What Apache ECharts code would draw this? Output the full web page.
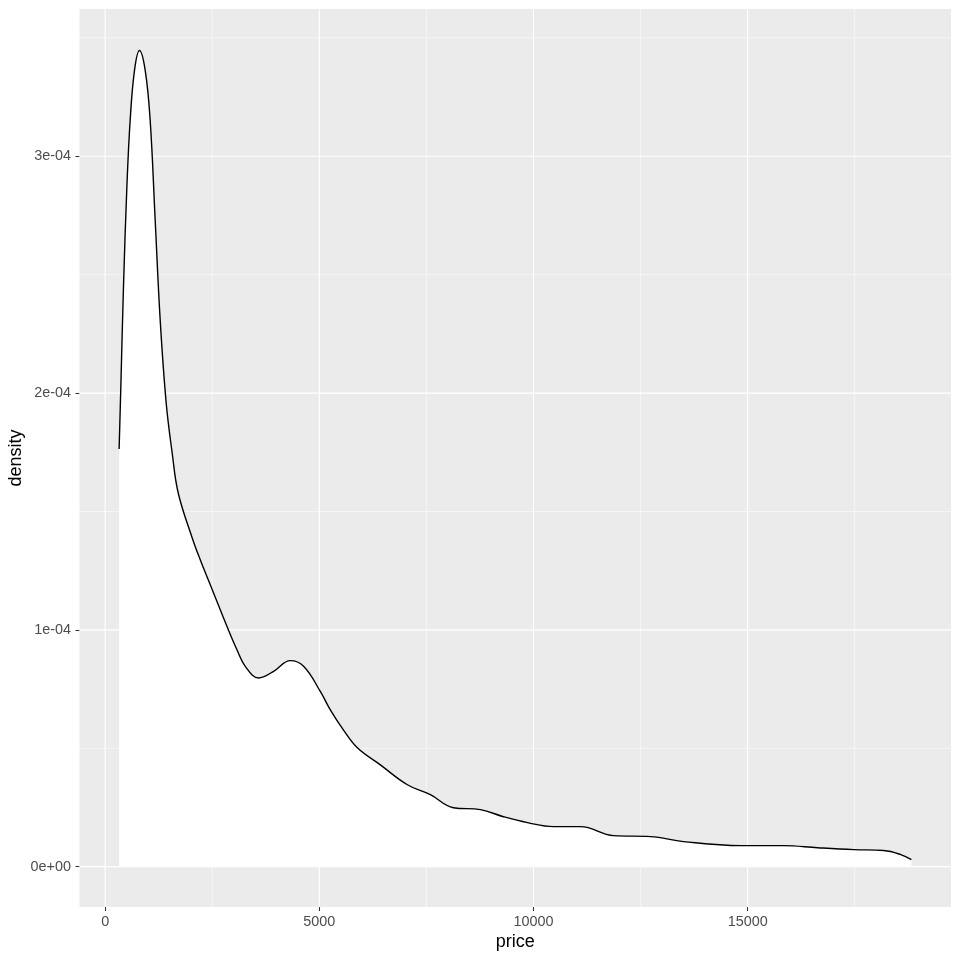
<!DOCTYPE html>
<html>
<head>
<meta charset="utf-8">
<script src="https://cdn.jsdelivr.net/npm/echarts@6/dist/echarts.min.js"></script>
<style>html,body{margin:0;padding:0;background:#fff}#c{width:960px;height:960px}</style>
</head>
<body>
<div id="c"></div>
<script>
const prices = [326, 366, 428, 507, 584, 685, 801, 935, 1051, 1168, 1285, 1425, 1565, 1706, 2033, 2220, 2531, 2843, 3077, 3271, 3583, 3933, 4322, 4633, 5023, 5257, 5561, 5888, 6425, 7056, 7593, 8131, 8762, 9299, 9860, 10467, 11098, 11869, 12734, 13505, 14836, 15841, 16636, 17477, 18178, 18575, 18823];
const densities = [1.764e-4, 2.027e-4, 2.449e-4, 2.870e-4, 3.152e-4, 3.363e-4, 3.447e-4, 3.363e-4, 3.152e-4, 2.73e-4, 2.308e-4, 1.958e-4, 1.747e-4, 1.578e-4, 1.388e-4, 1.296e-4, 1.156e-4, 1.015e-4, 0.916e-4, 0.846e-4, 0.797e-4, 0.825e-4, 0.870e-4, 0.846e-4, 0.740e-4, 0.662e-4, 0.578e-4, 0.502e-4, 0.430e-4, 0.346e-4, 0.304e-4, 0.249e-4, 0.241e-4, 0.211e-4, 0.186e-4, 0.169e-4, 0.169e-4, 0.131e-4, 0.127e-4, 0.106e-4, 0.089e-4, 0.089e-4, 0.080e-4, 0.072e-4, 0.068e-4, 0.051e-4, 0.030e-4];
const xTicks = [0, 5000, 10000, 15000];
const xTickLabels = ['0', '5000', '10000', '15000'];
const xMinor = [2500, 7500, 12500, 17500];
const yTicks = [0, 1e-4, 2e-4, 3e-4];
const yTickLabels = ['0e+00', '1e-04', '2e-04', '3e-04'];
const yMinor = [0.5e-4, 1.5e-4, 2.5e-4, 3.5e-4];

const X_MIN = -599, X_MAX = 19748, Y_MIN = -0.1703e-4, Y_MAX = 3.622e-4;
const data = prices.map((p, i) => [p, densities[i]]);
function lab(ticks, labels, v) {
  let best = 0;
  for (let i = 0; i < ticks.length; i++) if (Math.abs(ticks[i] - v) < Math.abs(ticks[best] - v)) best = i;
  return labels[best];
}
function gridData(xs, ys) {
  const d = [];
  xs.forEach(v => { d.push([v, Y_MIN], [v, Y_MAX], [v, '-']); });
  ys.forEach(v => { d.push([X_MIN, v], [X_MAX, v], ['-', v]); });
  return d;
}
const font = '"Liberation Sans", Arial, sans-serif';
const chart = echarts.init(document.getElementById('c'), null, {renderer: 'canvas'});
chart.setOption({
  animation: false,
  grid: {left: 79.5, right: 9, top: 9, bottom: 53, show: true, backgroundColor: '#EBEBEB', borderWidth: 0,
    containLabel: false, outerBoundsMode: 'none'},
  xAxis: {
    type: 'value', min: X_MIN, max: X_MAX,
    name: 'price', nameLocation: 'middle', nameGap: 26, nameMoveOverlap: false,
    nameTextStyle: {color: '#000', fontSize: 18, fontFamily: font},
    axisLine: {show: false, onZero: false},
    axisTick: {show: true, customValues: xTicks, length: 4, lineStyle: {color: '#333333', width: 1.07}},
    axisLabel: {customValues: xTicks, formatter: v => lab(xTicks, xTickLabels, v), color: '#4D4D4D', fontSize: 14.4, fontFamily: font, margin: 8},
    splitLine: {show: false}
  },
  yAxis: {
    type: 'value', min: Y_MIN, max: Y_MAX,
    name: 'density', nameLocation: 'middle', nameGap: 54.5, nameRotate: 90, nameMoveOverlap: false,
    nameTextStyle: {color: '#000', fontSize: 18, fontFamily: font},
    axisLine: {show: false, onZero: false},
    axisTick: {show: true, customValues: yTicks, length: 4, lineStyle: {color: '#333333', width: 1.07}},
    axisLabel: {customValues: yTicks, formatter: v => lab(yTicks, yTickLabels, v), color: '#4D4D4D', fontSize: 14.4, fontFamily: font, margin: 8.5},
    splitLine: {show: false}
  },
  series: [
    {
      type: 'line', data: gridData(xMinor, yMinor), z: 1, silent: true, symbol: 'none', showSymbol: false,
      connectNulls: false, lineStyle: {color: '#FFFFFF', width: 0.55}
    },
    {
      type: 'line', data: gridData(xTicks, yTicks), z: 1, silent: true, symbol: 'none', showSymbol: false,
      connectNulls: false, lineStyle: {color: '#FFFFFF', width: 1.1}
    },
    {
      type: 'line', data: data, z: 3, smooth: 0.4, showSymbol: false, symbol: 'none',
      lineStyle: {color: '#000000', width: 1.4},
      areaStyle: {color: '#FFFFFF', opacity: 1, origin: 0}
    }
  ]
});
</script>
</body>
</html>
